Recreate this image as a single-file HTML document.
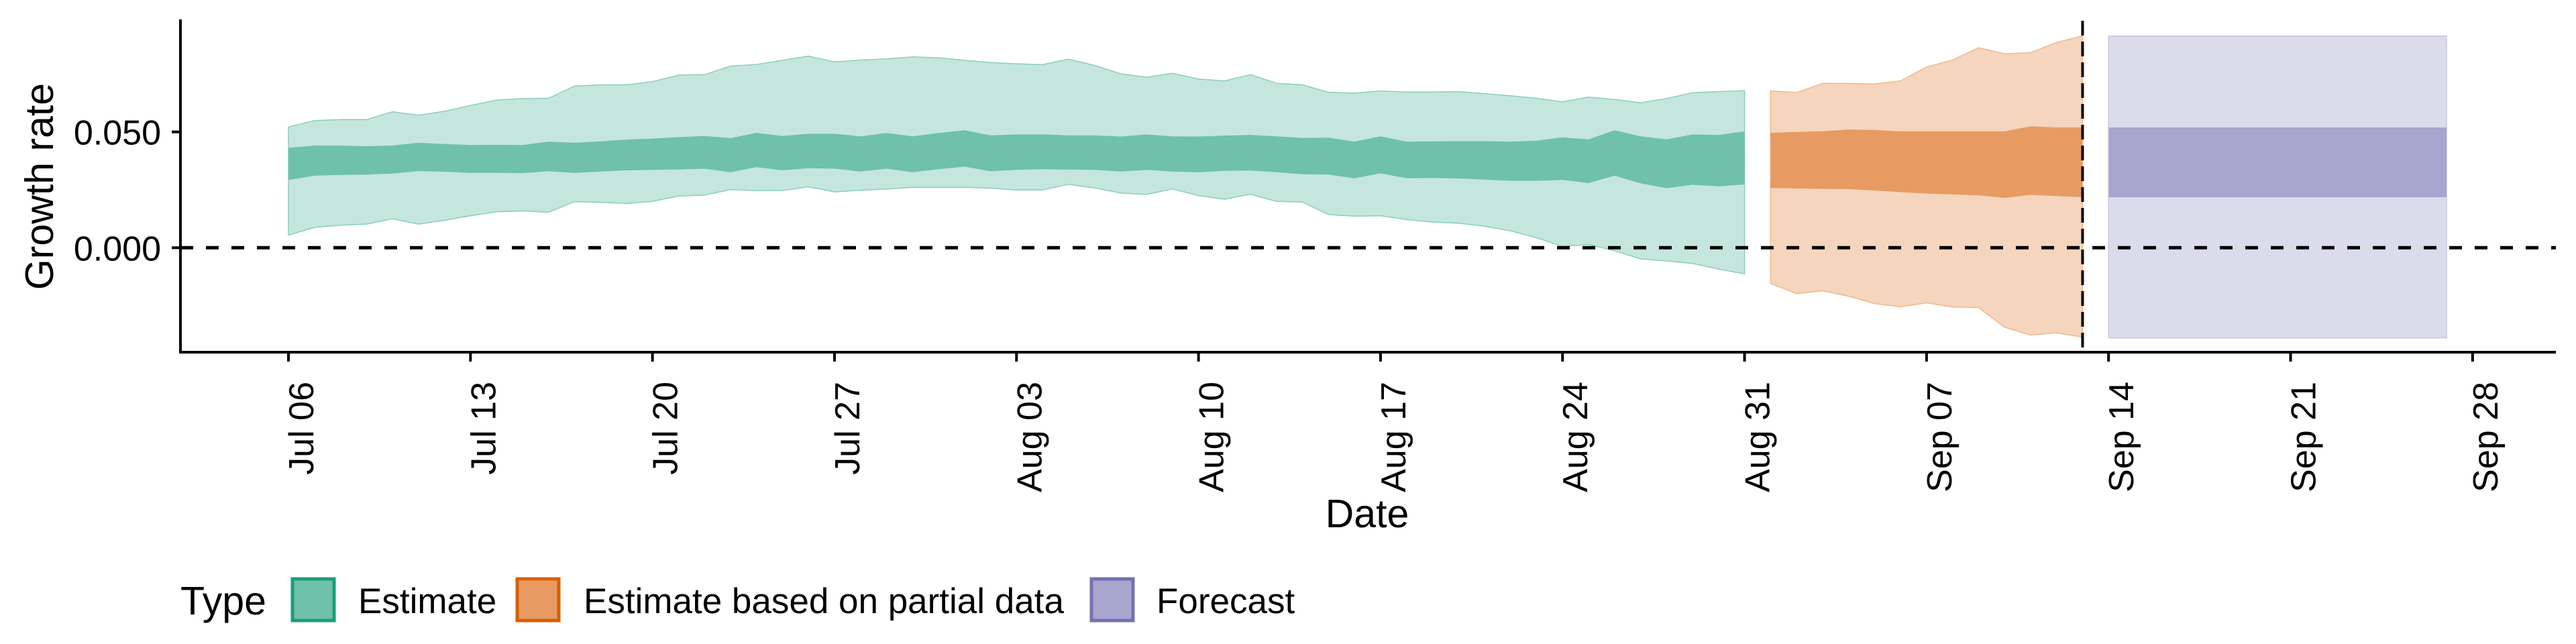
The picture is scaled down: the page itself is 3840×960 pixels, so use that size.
<!DOCTYPE html>
<html><head><meta charset="utf-8"><title>Growth rate</title>
<style>html,body{margin:0;padding:0;background:#fff}svg{display:block}text{font-family:"Liberation Sans",Arial,sans-serif;fill:#000}</style>
</head><body>
<svg id="chart" xmlns="http://www.w3.org/2000/svg" width="3840" height="960" viewBox="0 0 3840 960">
<g id="plot"></g>
<g id="axes"></g>
<g>
 <text x="269" y="916" font-size="59">Type</text>
 <rect x="436" y="863" width="62" height="62" fill="#6fc1a9" stroke="#1b9e77" stroke-width="5"/>
 <text x="534" y="914" font-size="53">Estimate</text>
 <rect x="771" y="863" width="62" height="62" fill="#e79b62" stroke="#d95f02" stroke-width="5"/>
 <text x="870" y="914" font-size="53">Estimate based on partial data</text>
 <rect x="1627" y="863" width="62" height="62" fill="#a8a5cf" stroke="#7570b3" stroke-width="5"/>
 <text x="1724" y="914" font-size="53">Forecast</text>
</g>
</svg>
<script>
// Estimate: Jul 06 .. Aug 31 (day index 0..56)
const estOuterTop=[0.0521,0.0549,0.0553,0.0553,0.0587,0.0572,0.0589,0.0614,0.0637,0.0644,0.0645,0.0698,0.0703,0.0703,0.0717,0.0745,0.0747,0.0784,0.0791,0.0809,0.0827,0.0802,0.0810,0.0815,0.0824,0.0820,0.0809,0.0799,0.0794,0.0790,0.0814,0.0787,0.0751,0.0736,0.0753,0.0728,0.0720,0.0747,0.0710,0.0703,0.0671,0.0667,0.0677,0.0672,0.0672,0.0674,0.0665,0.0656,0.0645,0.0630,0.0650,0.0640,0.0626,0.0644,0.0669,0.0674,0.0678];
const estInnerTop=[0.0431,0.0441,0.0441,0.0438,0.0441,0.0453,0.0448,0.0443,0.0444,0.0443,0.0458,0.0453,0.0459,0.0467,0.0471,0.0477,0.0482,0.0473,0.0496,0.0482,0.0492,0.0492,0.0481,0.0495,0.0481,0.0495,0.0507,0.0485,0.0489,0.0489,0.0485,0.0485,0.0480,0.0489,0.0481,0.0480,0.0484,0.0487,0.0481,0.0474,0.0475,0.0458,0.0481,0.0458,0.0459,0.0460,0.0460,0.0458,0.0462,0.0476,0.0468,0.0507,0.0481,0.0468,0.0489,0.0487,0.0502];
const estInnerBot=[0.0292,0.0311,0.0314,0.0316,0.0320,0.0331,0.0328,0.0323,0.0323,0.0322,0.0330,0.0323,0.0329,0.0334,0.0336,0.0338,0.0341,0.0326,0.0348,0.0334,0.0343,0.0341,0.0329,0.0341,0.0326,0.0339,0.0350,0.0330,0.0336,0.0339,0.0337,0.0336,0.0329,0.0336,0.0329,0.0326,0.0332,0.0333,0.0326,0.0317,0.0316,0.0300,0.0321,0.0300,0.0301,0.0299,0.0294,0.0289,0.0289,0.0293,0.0279,0.0311,0.0278,0.0257,0.0272,0.0265,0.0273];
const estOuterBot=[0.0054,0.0088,0.0097,0.0102,0.0125,0.0102,0.0118,0.0138,0.0155,0.0159,0.0153,0.0199,0.0196,0.0191,0.0200,0.0223,0.0227,0.0251,0.0246,0.0247,0.0263,0.0241,0.0248,0.0253,0.0261,0.0261,0.0261,0.0257,0.0249,0.0249,0.0274,0.0258,0.0236,0.0230,0.0254,0.0225,0.0209,0.0231,0.0200,0.0197,0.0143,0.0136,0.0138,0.0122,0.0111,0.0106,0.0093,0.0073,0.0043,0.0006,0.0014,-0.0013,-0.0048,-0.0057,-0.0068,-0.0092,-0.0113];
// Partial data: Sep 01 .. Sep 13 (day index 57..69)
const parOuterTop=[0.0677,0.0670,0.0709,0.0709,0.0707,0.0720,0.0780,0.0810,0.0863,0.0837,0.0842,0.0886,0.0914];
const parInnerTop=[0.0496,0.0500,0.0503,0.0510,0.0508,0.0502,0.0502,0.0502,0.0502,0.0502,0.0524,0.0519,0.0519];
const parInnerBot=[0.0258,0.0256,0.0254,0.0253,0.0247,0.0240,0.0234,0.0230,0.0226,0.0215,0.0228,0.0223,0.0218];
const parOuterBot=[-0.0154,-0.0198,-0.0186,-0.0209,-0.0241,-0.0255,-0.0238,-0.0256,-0.0258,-0.0343,-0.0377,-0.0367,-0.0386];
// Forecast: Sep 14 .. Sep 27 (day index 70..83)
const fcOuterTop=[0.0914,0.0914,0.0914,0.0914,0.0914,0.0914,0.0914,0.0914,0.0914,0.0914,0.0914,0.0914,0.0914,0.0914];
const fcInnerTop=[0.0519,0.0519,0.0519,0.0519,0.0519,0.0519,0.0519,0.0519,0.0519,0.0519,0.0519,0.0519,0.0519,0.0519];
const fcInnerBot=[0.0218,0.0218,0.0218,0.0218,0.0218,0.0218,0.0218,0.0218,0.0218,0.0218,0.0218,0.0218,0.0218,0.0218];
const fcOuterBot=[-0.0389,-0.0389,-0.0389,-0.0389,-0.0389,-0.0389,-0.0389,-0.0389,-0.0389,-0.0389,-0.0389,-0.0389,-0.0389,-0.0389];
const xTickLabels=["Jul 06","Jul 13","Jul 20","Jul 27","Aug 03","Aug 10","Aug 17","Aug 24","Aug 31","Sep 07","Sep 14","Sep 21","Sep 28"];
const xTickDays=[0,7,14,21,28,35,42,49,56,63,70,77,84];
const yTickValues=[0.0,0.05];
const yTickLabels=["0.000","0.050"];
const estStart=0, parStart=57, fcStart=70, dataDay=69;

const NS="http://www.w3.org/2000/svg";
const X0=430, DAY=38.76, Y0=369.3, YK=3454;
const xs=d=>X0+DAY*d;
const ys=v=>Y0-YK*v;
const plot=document.getElementById('plot');
const axes=document.getElementById('axes');
function mk(tag,attrs,parent){const e=document.createElementNS(NS,tag);for(const k in attrs)e.setAttribute(k,attrs[k]);parent.appendChild(e);return e;}

function ribbon(start,top,bot,fill,stroke,name){
  const pts=[];
  for(let i=0;i<top.length;i++)pts.push(xs(start+i).toFixed(1)+","+ys(top[i]).toFixed(1));
  for(let i=bot.length-1;i>=0;i--)pts.push(xs(start+i).toFixed(1)+","+ys(bot[i]).toFixed(1));
  const p=mk('polygon',{points:pts.join(' '),fill:fill,stroke:stroke||'none','stroke-width':stroke?1.5:0},plot);
  
  
}
ribbon(estStart,estOuterTop,estOuterBot,'#c5e6dc','#8ccfbb','estimate-outer-ribbon');
ribbon(estStart,estInnerTop,estInnerBot,'#6fc1a9',null,'estimate-inner-ribbon');
ribbon(parStart,parOuterTop,parOuterBot,'#f5d5bd','#f2b78c','partial-outer-ribbon');
ribbon(parStart,parInnerTop,parInnerBot,'#e79b62',null,'partial-inner-ribbon');
ribbon(fcStart,fcOuterTop,fcOuterBot,'#dcdbeb','#c8c6e2','forecast-outer-ribbon');
ribbon(fcStart,fcInnerTop,fcInnerBot,'#a8a5cf',null,'forecast-inner-ribbon');

const zl=mk('line',{x1:269,x2:3810,y1:ys(0),y2:ys(0),stroke:'#000','stroke-width':5,'stroke-dasharray':'19 19'},plot);


const dl=mk('line',{x1:xs(dataDay),x2:xs(dataDay),y1:31,y2:525,stroke:'#000','stroke-width':4,'stroke-dasharray':'22 9'},plot);



const ya=mk('line',{x1:269,x2:269,y1:29,y2:527,stroke:'#000','stroke-width':4},axes);


const xa=mk('line',{x1:267,x2:3810,y1:525,y2:525,stroke:'#000','stroke-width':4},axes);



for(let i=0;i<yTickValues.length;i++){
  const y=ys(yTickValues[i]);
  const t=mk('line',{x1:256,x2:269,y1:y,y2:y,stroke:'#000','stroke-width':4},axes);
  
  
  const l=mk('text',{x:240,y:y+19,'font-size':52,'text-anchor':'end'},axes);
  l.textContent=yTickLabels[i];
  
  
}
for(let i=0;i<xTickDays.length;i++){
  const x=xs(xTickDays[i]);
  const t=mk('line',{x1:x,x2:x,y1:525,y2:539,stroke:'#000','stroke-width':4},axes);
  
  
  const l=mk('text',{x:0,y:0,'font-size':52,'text-anchor':'end',transform:`translate(${(x+37).toFixed(1)},569) rotate(-90)`},axes);
  l.textContent=xTickLabels[i];
  
  
}
const xt=mk('text',{x:2038,y:786,'font-size':59,'text-anchor':'middle'},axes);
xt.textContent='Date';


const yt=mk('text',{x:0,y:0,'font-size':59,'text-anchor':'middle',transform:'translate(79,278) rotate(-90)'},axes);
yt.textContent='Growth rate';


</script>
</body></html>
